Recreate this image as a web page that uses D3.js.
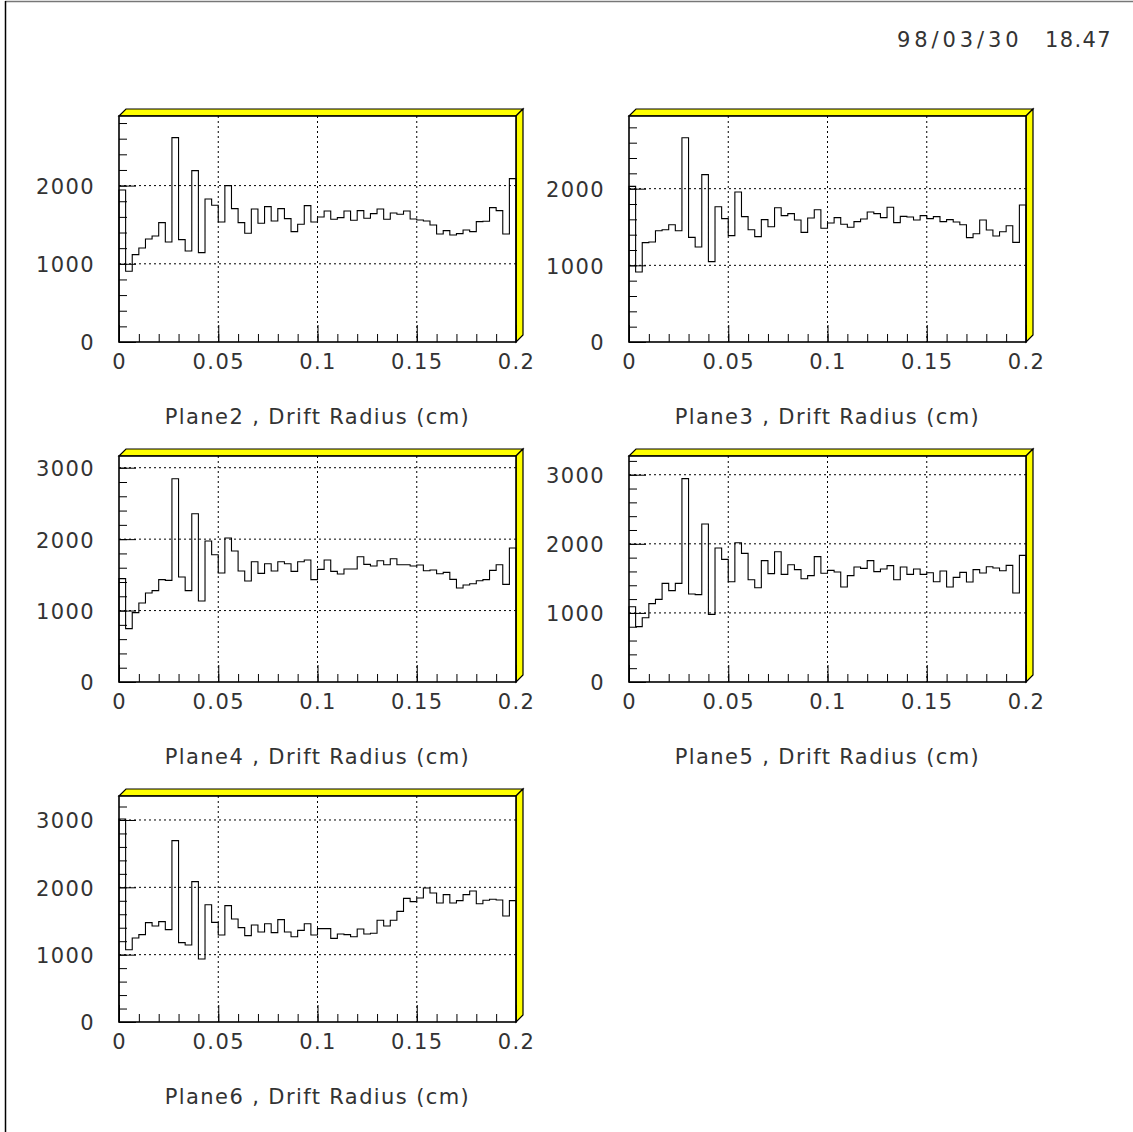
<!DOCTYPE html>
<html>
<head>
<meta charset="utf-8">
<script src="https://cdn.jsdelivr.net/npm/d3@7"></script>
<style>
  body { margin: 0; background: #fff; }
  svg { display: block; }
  text {
    font-family: "DejaVu Sans", sans-serif;
    font-size: 21px;
    fill: #333;
    letter-spacing: 1.4px;
  }
</style>
</head>
<body>
<svg id="viz" width="1133" height="1132"></svg>
<script>
// Drift radius histograms, 60 bins over [0, 0.2] cm
const plane2 = [1944, 904, 1117, 1202, 1318, 1356, 1527, 1279, 2614, 1309, 1164, 2192, 1143, 1829, 1748,
  1535, 2000, 1706, 1527, 1390, 1701, 1518, 1731, 1548, 1706, 1578, 1411, 1505, 1744, 1535,
  1599, 1676, 1569, 1590, 1676, 1556, 1680, 1582, 1642, 1701, 1569, 1650, 1633, 1676, 1573,
  1561, 1548, 1497, 1382, 1424, 1369, 1386, 1433, 1411, 1539, 1544, 1718, 1680, 1382, 2089];
const plane3 = [2030, 913, 1296, 1304, 1452, 1465, 1530, 1452, 2665, 1365, 1239, 2183, 1048, 1765, 1609,
  1387, 1957, 1635, 1465, 1374, 1596, 1504, 1752, 1648, 1674, 1591, 1430, 1617, 1726, 1483,
  1552, 1622, 1535, 1496, 1570, 1604, 1696, 1674, 1622, 1757, 1557, 1639, 1630, 1591, 1648,
  1609, 1635, 1570, 1596, 1565, 1530, 1361, 1413, 1591, 1461, 1383, 1439, 1517, 1300, 1787];
const plane4 = [1447, 747, 971, 1106, 1246, 1279, 1433, 1423, 2846, 1470, 1279, 2356, 1134, 1974, 1782,
  1526, 2016, 1834, 1554, 1414, 1684, 1521, 1656, 1554, 1684, 1656, 1549, 1684, 1708, 1433,
  1577, 1708, 1549, 1512, 1582, 1582, 1754, 1647, 1624, 1698, 1642, 1726, 1642, 1642, 1624,
  1638, 1558, 1568, 1516, 1535, 1437, 1316, 1358, 1376, 1418, 1433, 1563, 1642, 1367, 1876];
const plane5 = [1090, 801, 931, 1134, 1196, 1428, 1322, 1428, 2943, 1274, 1264, 2287, 979, 1939, 1775,
  1452, 2016, 1862, 1481, 1365, 1756, 1568, 1886, 1558, 1698, 1626, 1495, 1539, 1814, 1573,
  1616, 1592, 1375, 1539, 1664, 1645, 1756, 1597, 1635, 1684, 1481, 1664, 1558, 1635, 1558,
  1582, 1452, 1606, 1375, 1515, 1587, 1447, 1626, 1577, 1669, 1650, 1611, 1688, 1288, 1833];
const plane6 = [3015, 1074, 1247, 1297, 1475, 1426, 1490, 1371, 2693, 1178, 1143, 2084, 936, 1742, 1480,
  1292, 1728, 1530, 1401, 1282, 1440, 1336, 1460, 1327, 1520, 1336, 1267, 1361, 1460, 1292,
  1386, 1386, 1242, 1307, 1297, 1267, 1381, 1307, 1317, 1510, 1426, 1510, 1643, 1836, 1787,
  1841, 1990, 1916, 1767, 1891, 1767, 1802, 1891, 1945, 1757, 1807, 1822, 1812, 1574, 1802];

const planeNames = ["Plane2", "Plane3", "Plane4", "Plane5", "Plane6"];
const planeSeries = [plane2, plane3, plane4, plane5, plane6];
const yMaxes = [2890, 2948, 3164, 3271, 3356];
const xTicks = [0, 0.05, 0.1, 0.15, 0.2];
const xTickLabels = ["0", "0.05", "0.1", "0.15", "0.2"];
const axisTitle = " , Drift Radius (cm)";
const stampDate = "98/03/30";
const stampTime = "18.47";

const xMin = 0, xMax = 0.2;
const W = 397, H = 226, depth = 7;
const colX = [119, 629];
const rowY = [116, 456, 796];

const svg = d3.select("#viz");

// page border (top and left only)
svg.append("line").attr("x1", 5).attr("x2", 1133).attr("y1", 1.5).attr("y2", 1.5)
  .attr("stroke", "#777").attr("stroke-width", 1.5);
svg.append("line").attr("x1", 5.5).attr("x2", 5.5).attr("y1", 1).attr("y2", 1132)
  .attr("stroke", "#000").attr("stroke-width", 1.5);

svg.append("text")
  .attr("x", 897).attr("y", 47)
  .attr("textLength", 123).attr("lengthAdjust", "spacing")
  .text(stampDate);
svg.append("text")
  .attr("x", 1112).attr("y", 47)
  .attr("text-anchor", "end")
  .text(stampTime);

planeSeries.forEach((vals, k) => {
  const ox = colX[k % 2];
  const oy = rowY[Math.floor(k / 2)];
  const g = svg.append("g").attr("transform", `translate(${ox},${oy})`);

  const x = d3.scaleLinear().domain([xMin, xMax]).range([0, W]);
  const y = d3.scaleLinear().domain([0, yMaxes[k]]).range([H, 0]);

  // 3D box faces
  g.append("path")
    .attr("d", `M0,0L${depth},${-depth}L${W + depth},${-depth}L${W},0Z`)
    .attr("fill", "#ffff00").attr("stroke", "#000").attr("stroke-width", 1.2);
  g.append("path")
    .attr("d", `M${W},0L${W + depth},${-depth}L${W + depth},${H - depth}L${W},${H}Z`)
    .attr("fill", "#ffff00").attr("stroke", "#000").attr("stroke-width", 1.2);
  g.append("rect").attr("width", W).attr("height", H).attr("fill", "#fff");

  // dotted grid
  const yMajor = d3.range(0, yMaxes[k], 1000);
  g.selectAll(".gx").data(xTicks.slice(1, -1)).join("line")
    .attr("x1", d => x(d)).attr("x2", d => x(d))
    .attr("y1", 0).attr("y2", H)
    .attr("stroke", "#000").attr("stroke-dasharray", "2,3");
  g.selectAll(".gy").data(yMajor.slice(1)).join("line")
    .attr("x1", 0).attr("x2", W)
    .attr("y1", d => y(d)).attr("y2", d => y(d))
    .attr("stroke", "#000").attr("stroke-dasharray", "2,3");

  // histogram outline
  const bw = (xMax - xMin) / vals.length;
  const pts = [[xMin, 0]];
  vals.forEach((v, i) => pts.push([xMin + i * bw, v]));
  pts.push([xMax, vals[vals.length - 1]]);
  pts.push([xMax, 0]);
  g.append("path")
    .attr("d", d3.line().x(d => x(d[0])).y(d => y(d[1])).curve(d3.curveStepAfter)(pts))
    .attr("fill", "none").attr("stroke", "#000").attr("stroke-width", 1.1);

  const clean = a => a.call(s => s.select(".domain").remove())
    .attr("font-size", null).attr("font-family", null);

  // y axis
  g.append("g").call(d3.axisLeft(y).tickValues(d3.range(0, yMaxes[k], 200))
    .tickSize(-8).tickFormat("")).call(clean);
  g.append("g").call(d3.axisLeft(y).tickValues(yMajor)
    .tickSize(-17).tickPadding(24).tickFormat(d3.format("d"))).call(clean)
    .selectAll("text").attr("dy", "0.38em");

  // x axis
  g.append("g").attr("transform", `translate(0,${H})`)
    .call(d3.axisBottom(x).tickValues(d3.range(0, 21).map(i => i / 100))
      .tickSize(-8).tickFormat("")).call(clean);
  g.append("g").attr("transform", `translate(0,${H})`)
    .call(d3.axisBottom(x).tickValues(xTicks)
      .tickSize(-17).tickPadding(12).tickFormat((d, i) => xTickLabels[i])).call(clean);

  // frame
  g.append("rect").attr("width", W).attr("height", H)
    .attr("fill", "none").attr("stroke", "#000").attr("stroke-width", 1.6);

  g.append("text")
    .attr("x", W / 2).attr("y", H + 82)
    .attr("text-anchor", "middle")
    .style("white-space", "pre")
    .text(planeNames[k] + axisTitle);
});
</script>
</body>
</html>
